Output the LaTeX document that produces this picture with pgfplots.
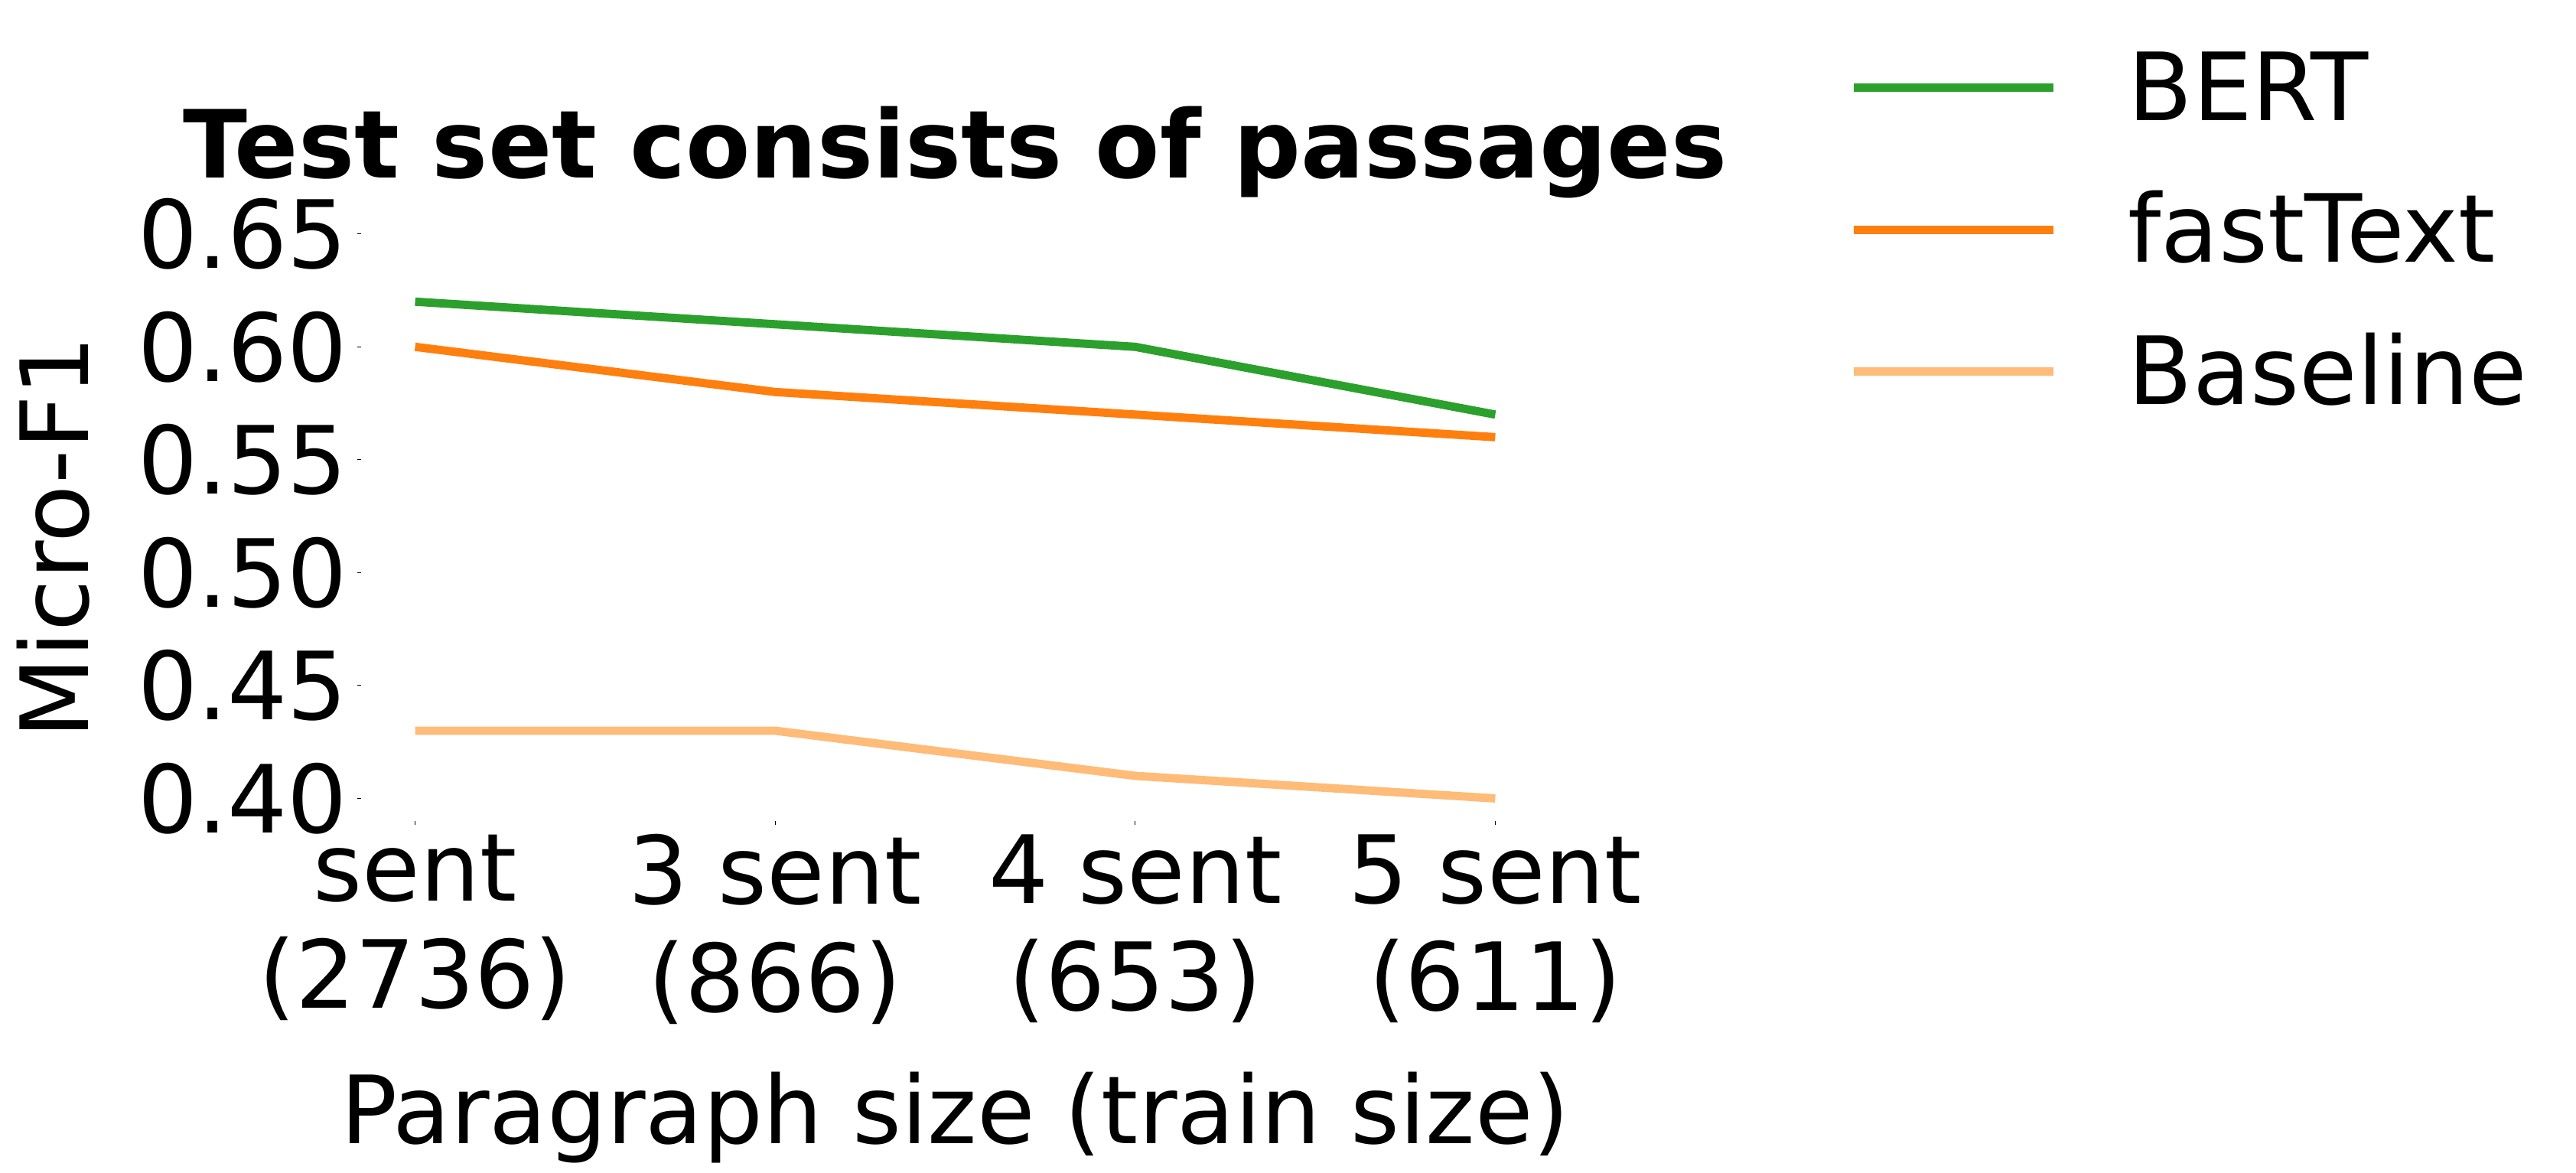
\documentclass[border=0pt]{standalone}
\usepackage{fontspec}
\setmainfont{DejaVu Sans}
\usepackage{pgfplots}
\pgfplotsset{compat=1.18}
\definecolor{bert}{HTML}{2CA02C}
\definecolor{ftext}{HTML}{FF7F0E}
\definecolor{basel}{HTML}{FFBB78}
\newcommand{\bigfont}{\fontsize{35}{40}\selectfont}
\begin{document}
\begin{tikzpicture}
\begin{axis}[
    scale only axis,
    width=15.53cm, height=7.82cm,
    xmin=-0.15, xmax=3.15, ymin=0.39, ymax=0.655,
    axis line style={draw=none},
    xtick={0,1,2,3},
    xticklabels={{sent\\(2736)},{3 sent\\(866)},{4 sent\\(653)},{5 sent\\(611)}},
    ytick={0.40,0.45,0.50,0.55,0.60,0.65},
    /pgf/number format/assume math mode=true,
    yticklabel={\pgfmathprintnumber[fixed, fixed zerofill, precision=2]{\tick}},
    tick align=outside, tick pos=left,
    major tick length=0.05cm,
    tick style={black, line width=0.3pt},
    ticklabel style={font=\bigfont},
    xticklabel style={align=center, anchor=north, inner sep=0pt, yshift=-0.12cm},
    yticklabel style={anchor=east, inner sep=0pt, xshift=-0.12cm},
    title={\bfseries Test set consists of passages},
    title style={font=\bigfont, at={(axis description cs:0.5,1)}, anchor=base, yshift=0.37cm},
    xlabel={Paragraph size (train size)},
    xlabel style={font=\bigfont, at={(axis description cs:0.5,0)}, anchor=base, yshift=-4.22cm},
    ylabel={Micro-F1},
    ylabel style={font=\bigfont, at={(axis description cs:-0.259,0.474)}, anchor=center},
    legend style={draw=none, fill=none, font=\bigfont,
        at={(axis description cs:1.2556,1.293)}, anchor=north west,
        inner sep=0pt, row sep=0.6cm,
        nodes={inner sep=0pt, text height=0.92cm, text depth=0.31cm}},
    legend cell align=left,
    legend image code/.code={%
        \pgfpathrectangle{\pgfpointorigin}{\pgfpoint{2.61cm}{0.64cm}}%
        \pgfusepath{use as bounding box}%
        \draw[#1, overlay] (0cm,0.12cm) -- (2.61cm,0.12cm);},
    /tikz/every odd column/.append style={column sep=0.98cm},
]
\addplot[bert, line width=3.1pt] coordinates {(0,0.62)(1,0.61)(2,0.60)(3,0.57)};
\addlegendentry{BERT}
\addplot[ftext, line width=3.1pt] coordinates {(0,0.60)(1,0.58)(2,0.57)(3,0.56)};
\addlegendentry{fastText}
\addplot[basel, line width=3.1pt] coordinates {(0,0.43)(1,0.43)(2,0.41)(3,0.40)};
\addlegendentry{Baseline}
\end{axis}
\path (current axis.south west) ++(-4.72cm,-4.58cm) rectangle ++(33.67cm,15.31cm);
\end{tikzpicture}
\end{document}
